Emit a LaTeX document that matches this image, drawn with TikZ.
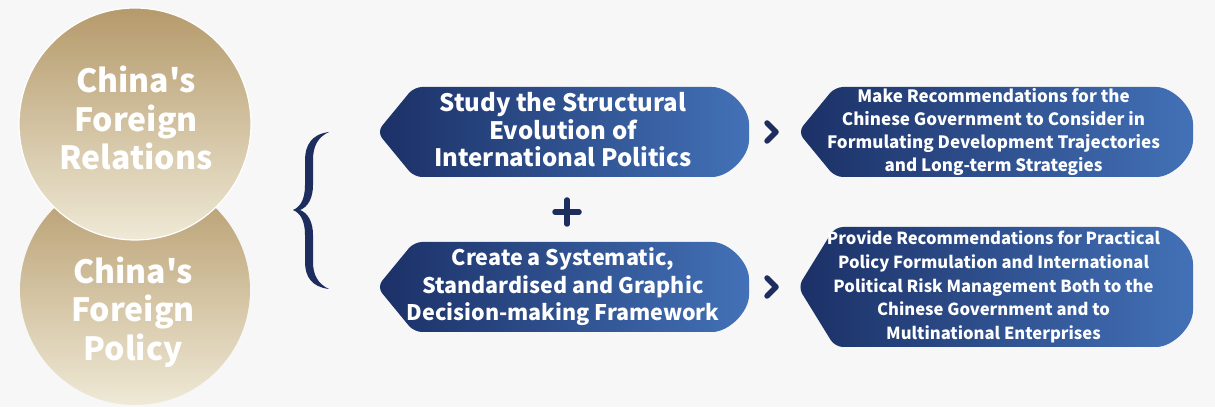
\documentclass[tikz,border=0pt]{standalone}
\usepackage{fontspec}
\setmainfont{Noto Sans CJK SC}[Ligatures=TeXOff]
\usetikzlibrary{calc}
\definecolor{bgc}{HTML}{F7F7F7}
\definecolor{navyL}{HTML}{1B3066}
\definecolor{navyR}{HTML}{4371B7}
\definecolor{navyD}{HTML}{1D2E5E}
\definecolor{goldT}{HTML}{B59A6B}
\definecolor{goldM}{HTML}{BFA577}
\definecolor{goldB}{HTML}{EFE9D6}
\tikzset{
  boxfill/.style={left color=navyL, right color=navyR, rounded corners=8},
  boxtext/.style={text=white, align=center, inner sep=0pt, font=\bfseries},
  circ/.style={circle, minimum size=#1, inner sep=0pt, top color=goldT, middle color=goldM, bottom color=goldB},
  circtext/.style={text=white, align=center, inner sep=0pt, font=\bfseries\fontsize{32}{38.5}\selectfont},
  chev/.style={draw=navyD, line width=5.5, line cap=round, line join=round},
  plusmark/.style={draw=navyD, line width=5.5, line cap=round},
}
% name, x1, x2, ytop, ybot
\newcommand\pbox[5]{%
  \pgfmathsetmacro\pbh{(#4-#5)/2}%
  \pgfmathsetmacro\pbr{min(45,\pbh)}%
  \pgfmathsetmacro\pbm{(#4+#5)/2}%
  \pgfmathsetmacro\pbc{(#2+#3)/2}%
  \path[boxfill] (#2+37,#4) -- (#3-\pbr,#4)
     arc[start angle=90,end angle=0,radius=\pbr] -- (#3,#5+\pbr)
     arc[start angle=0,end angle=-90,radius=\pbr] -- (#2+37,#5) -- (#2,\pbm) -- cycle;
  \coordinate (#1-w) at (#2,\pbm);
  \coordinate (#1-e) at (#3,\pbm);
  \coordinate (#1) at (\pbc,\pbm);
}
\begin{document}
\begin{tikzpicture}[x=1pt,y=1pt]
\fill[bgc] (0,0) rectangle (1215,407);
\useasboundingbox (0,0) rectangle (1215,407);
% circles
\node[circ=230] (c2) at (135,117) {};
\node[circ=232, draw=white, line width=1.2] (c1) at (135,283) {};
\node[circtext] (c1t) at (136,289) {China's\\Foreign\\Relations};
\node[circtext] (c2t) at (133,95) {China's\\Foreign\\Policy};
% brace
\fill[navyD] (329,275) .. controls (312,273) and (305,262) .. (305,247) -- (305,222)
  .. controls (305,207) and (300,200) .. (293,197)
  .. controls (300,194) and (305,187) .. (305,172) -- (305,145)
  .. controls (305,130) and (312,120) .. (329,118)
  .. controls (318,123) and (313,132) .. (313,145) -- (313,172)
  .. controls (313,185) and (308,194) .. (300,197)
  .. controls (308,200) and (313,209) .. (313,222) -- (313,247)
  .. controls (313,261) and (318,270) .. (329,275) -- cycle;
% boxes
\pbox{b1}{377}{749}{320}{230}
\pbox{b2}{377}{749}{165}{75}
\pbox{b3}{798}{1193}{320}{230}
\pbox{b4}{798}{1193}{180}{60}
\node[boxtext, font=\bfseries\fontsize{24}{27.5}\selectfont] (t1) at ($(b1)+(0,2)$) {Study the Structural\\Evolution of\\International Politics};
\node[boxtext, font=\bfseries\fontsize{21.5}{27.5}\selectfont] (t2) at (b2) {Create a Systematic,\\Standardised and Graphic\\Decision-making Framework};
\node[boxtext, font=\bfseries\fontsize{17}{23.3}\selectfont] (t3) at ($(b3)+(-2,0)$) {Make Recommendations for the\\Chinese Government to Consider in\\Formulating Development Trajectories\\and Long-term Strategies};
\node[boxtext, font=\bfseries\fontsize{16.6}{23.7}\selectfont] (t4) at ($(b4)+(-2,0)$) {Provide Recommendations for Practical\\Policy Formulation and International\\Political Risk Management Both to the\\Chinese Government and to\\Multinational Enterprises};
% chevrons between boxes
\coordinate (k1) at ($(b1-e)!0.47!(b3-w)$);
\coordinate (k2) at ($(b2-e)!0.47!(b4-w)$);
\draw[chev] ($(k1)+(-5,9)$) -- ($(k1)+(4,0)$) -- ($(k1)+(-5,-9)$);
\draw[chev] ($(k2)+(-5,9)$) -- ($(k2)+(4,0)$) -- ($(k2)+(-5,-9)$);
% plus
\coordinate (pl) at (567,195);
\draw[plusmark] ($(pl)+(-12,0)$) -- ($(pl)+(12,0)$);
\draw[plusmark] ($(pl)+(0,-12)$) -- ($(pl)+(0,12)$);
\end{tikzpicture}
\end{document}
